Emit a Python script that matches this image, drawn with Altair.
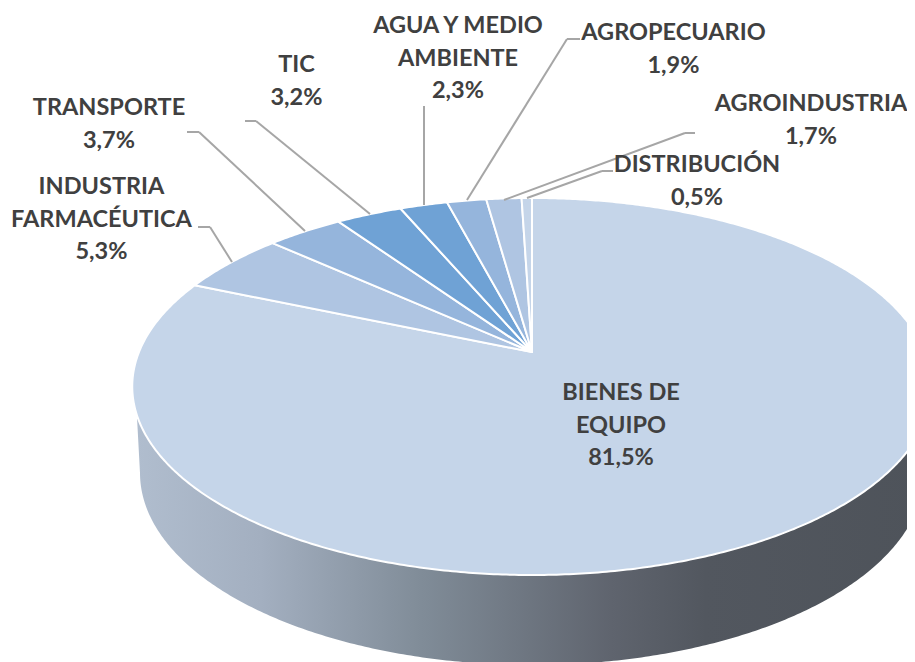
import math
import altair as alt

categories = ["BIENES DE EQUIPO", "INDUSTRIA FARMACÉUTICA", "TRANSPORTE", "TIC",
              "AGUA Y MEDIO AMBIENTE", "AGROPECUARIO", "AGROINDUSTRIA", "DISTRIBUCIÓN"]
values = [81.5, 5.3, 3.7, 3.2, 2.3, 1.9, 1.7, 0.5]
colors = ["#C5D5E9", "#AFC5E2", "#95B5DC", "#6FA2D5", "#6FA2D5", "#95B5DC", "#AFC5E2", "#C5D5E9"]
label_lines = [["BIENES DE", "EQUIPO"], ["INDUSTRIA", "FARMACÉUTICA"], ["TRANSPORTE"], ["TIC"],
               ["AGUA Y MEDIO", "AMBIENTE"], ["AGROPECUARIO"], ["AGROINDUSTRIA"], ["DISTRIBUCIÓN"]]

# page layout (the svg sits 8px inside the window)
M = 8
CX, CY = 532 - M, 352 - M
A, B, K = 393.0, 182.2, 0.183
LOW_CX, LOW_CY, LOW_RX, LOW_RY = 532 - M, 473 - M, 392.0, 192.0
TEXT = "#404040"
LEAD = "#A6A6A6"
LINE_H = 32.5
label_pos = [(621, 393), (101.5, 187), (109, 108), (296.5, 65), (458, 26), (673.5, 33), (811, 104), (697, 165)]
leaders = [None,
           [(198, 227), (210, 227), (232, 262)],
           [(187, 132), (199, 132), (305, 231)],
           [(245, 121), (256, 121), (370, 214)],
           [(424, 106), (424, 205)],
           [(580, 39), (567, 39), (467, 200)],
           [(695, 133), (685, 133), (504, 200)],
           [(613, 171), (602, 171), (527, 198)]]


def top_point(deg):
    t = math.radians(deg)
    w = 1 + K * math.cos(t)
    return [CX + A * math.sin(t) / w, CY - B * math.cos(t) / w]


def feature(coords, **props):
    ring = coords + [coords[0]]
    return {"type": "Feature", "properties": props,
            "geometry": {"type": "Polygon", "coordinates": [ring]}}


total = sum(values)
slices = []
start = 0.0
for cat, val in zip(categories, values):
    sweep = 360.0 * val / total
    n = max(2, int(sweep * 2))
    arc = [top_point(start + sweep * i / n) for i in range(n + 1)]
    slices.append(feature([[CX, CY]] + arc, category=cat, value=val))
    start += sweep

front = [top_point(251 - i * (251 - 109) / 300) for i in range(301)]
lower = [[LOW_CX + LOW_RX * math.cos(math.radians(a)), LOW_CY + LOW_RY * math.sin(math.radians(a))]
         for a in [i * 0.6 for i in range(301)]]
side = feature(front + lower, category="side")

proj = dict(type="identity", scale=1, translate=[0, 0])

side_layer = alt.Chart(alt.Data(values=[side])).mark_geoshape(
    fill=alt.LinearGradient(
        gradient="linear", x1=0, x2=1, y1=0, y2=0,
        stops=[alt.GradientStop(offset=0, color="#B0BDCE"),
               alt.GradientStop(offset=0.157, color="#A3AFC0"),
               alt.GradientStop(offset=0.36, color="#808C98"),
               alt.GradientStop(offset=0.60, color="#5F646E"),
               alt.GradientStop(offset=0.72, color="#52575F"),
               alt.GradientStop(offset=1, color="#4E535A")]),
    strokeWidth=0,
).project(**proj)

top_layer = alt.Chart(alt.Data(values=slices)).mark_geoshape(
    stroke="white", strokeWidth=2, strokeJoin="round",
).encode(
    color=alt.Color("properties.category:N", legend=None,
                    scale=alt.Scale(domain=categories, range=colors)),
).project(**proj)

layers = [side_layer, top_layer]

for points in leaders:
    if not points:
        continue
    for (x0, y0), (x1, y1) in zip(points, points[1:]):
        layers.append(alt.Chart(alt.Data(values=[{"k": 1}])).mark_rule(color=LEAD, strokeWidth=2).encode(
            x=alt.value(x0 - M), x2=alt.value(x1 - M), y=alt.value(y0 - M), y2=alt.value(y1 - M)))

for lines, val, (x, y) in zip(label_lines, values, label_pos):
    text_lines = lines + [f"{val:.1f}%".replace(".", ",")]
    for i, line in enumerate(text_lines):
        layers.append(alt.Chart(alt.Data(values=[{"t": line}])).mark_text(
            font="Lato", fontSize=23.5, fontWeight="bold", color=TEXT,
            align="center", baseline="middle",
        ).encode(text="t:N", x=alt.value(x - M), y=alt.value(y - M + i * LINE_H)))

chart = alt.layer(*layers).properties(
    width=899, height=654, padding=0, autosize=alt.AutoSizeParams(type="none"),
).configure_view(stroke=None)

chart.save("out.html", embed_options={"renderer": "svg", "actions": False})
